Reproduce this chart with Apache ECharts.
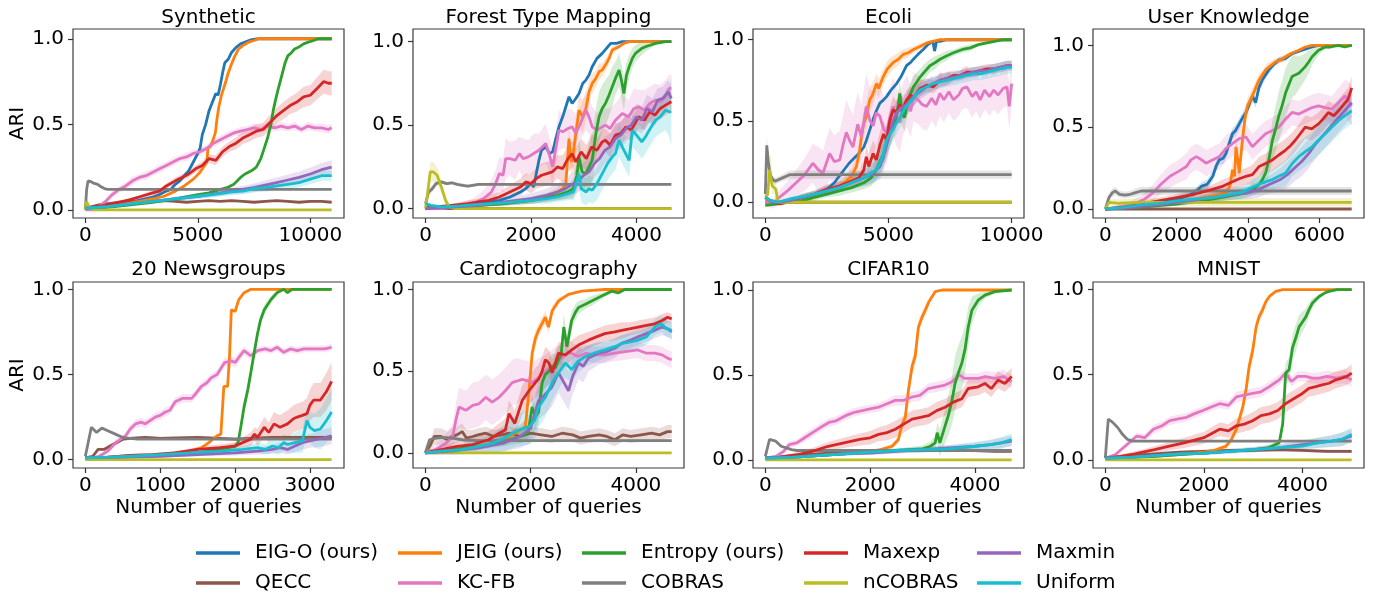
<!DOCTYPE html>
<html><head><meta charset="utf-8">
<script src="https://cdn.jsdelivr.net/npm/echarts@6/dist/echarts.min.js"></script>
<style>html,body{margin:0;padding:0;background:#fff}#c{width:1376px;height:593px}</style>
</head><body><div id="c"></div>
<script>
// ---------- labels ----------
const panelTitles = ['Synthetic','Forest Type Mapping','Ecoli','User Knowledge','20 Newsgroups','Cardiotocography','CIFAR10','MNIST'];
const seriesNames = ['EIG-O (ours)','QECC','JEIG (ours)','KC-FB','Entropy (ours)','COBRAS','Maxexp','nCOBRAS','Maxmin','Uniform'];
const yTicks = [0, 0.5, 1.0];
const xTicks = [[0,5000,10000],[0,2000,4000],[0,5000,10000],[0,2000,4000,6000],[0,1000,2000,3000],[0,2000,4000],[0,2000,4000],[0,2000,4000]];
const xRanges = [[-547,11497],[-237,4900],[-500,10500],[-345,7245],[-165,3455],[-234,4914],[-235,4935],[-250,5250]];
const yRanges = [[-0.047,1.057],[-0.056,1.076],[-0.097,1.066],[-0.055,1.10],[-0.049,1.043],[-0.093,1.046],[-0.048,1.047],[-0.048,1.045]];

// ---------- data: [queries, ARI, (band half-width)] ----------
// Synthetic
const syn_eig = [[0,0.01],[500,0.015],[1000,0.025],[1500,0.03],[2000,0.045],[2500,0.06],[3000,0.075],[3300,0.09],[3600,0.11],[3800,0.12],[4000,0.15],[4200,0.17],[4400,0.2],[4600,0.23],[4800,0.28],[5000,0.33],[5100,0.36],[5200,0.44],[5350,0.5],[5500,0.58],[5650,0.63],[5800,0.68],[5900,0.67],[6000,0.73],[6100,0.8],[6200,0.86],[6350,0.88],[6500,0.92],[6700,0.95],[6900,0.97],[7100,0.98],[7400,0.995],[7700,1.0],[8500,1.0],[9500,1.0],[10950,1.0]];
const syn_qecc = [[0,0.01],[300,0.02],[600,0.03],[900,0.035],[1200,0.04],[1500,0.045],[2000,0.05],[2500,0.045],[3000,0.05],[3500,0.055],[4000,0.05],[4500,0.045],[5000,0.05],[5500,0.055],[6000,0.05],[6500,0.055],[7000,0.05],[7500,0.045],[8000,0.05],[8500,0.055],[9000,0.05],[9500,0.045],[10000,0.05],[10500,0.05],[10950,0.045]];
const syn_jeig = [[0,0.01],[1000,0.02],[2000,0.04],[3000,0.065],[3500,0.08],[4000,0.11],[4400,0.14],[4800,0.18],[5100,0.22],[5300,0.26],[5400,0.28],[5450,0.36],[5550,0.37],[5650,0.4],[5780,0.45],[5850,0.53],[5930,0.6],[6050,0.67],[6220,0.74],[6350,0.8],[6520,0.86],[6650,0.9],[6810,0.94],[7000,0.96],[7260,0.98],[7500,0.99],[7700,1.0],[9000,1.0],[10950,1.0]];
const syn_kcfb = [[0,0.0,0.005],[300,0.0,0.005],[600,0.02,0.01],[900,0.05,0.015],[1200,0.09,0.02],[1500,0.12,0.02],[1800,0.14,0.02],[2100,0.17,0.025],[2400,0.19,0.02],[2700,0.2,0.025],[3000,0.22,0.02],[3300,0.24,0.025],[3600,0.26,0.02],[3900,0.28,0.025],[4200,0.3,0.02],[4500,0.31,0.025],[4800,0.33,0.02],[5100,0.34,0.025],[5400,0.36,0.02],[5700,0.39,0.025],[6000,0.41,0.02],[6300,0.43,0.025],[6600,0.45,0.02],[6900,0.46,0.025],[7200,0.47,0.02],[7500,0.48,0.025],[7800,0.47,0.02],[8100,0.49,0.025],[8400,0.48,0.02],[8700,0.49,0.025],[9000,0.48,0.02],[9300,0.49,0.025],[9600,0.47,0.02],[9900,0.49,0.025],[10200,0.48,0.02],[10500,0.48,0.025],[10800,0.47,0.025],[10950,0.48,0.025]];
const syn_ent = [[0,0.01],[1000,0.015],[2000,0.03],[3000,0.045],[4000,0.065],[5000,0.09],[5500,0.1],[6000,0.12],[6300,0.13],[6600,0.15],[6900,0.19],[7100,0.21],[7400,0.23],[7600,0.25],[7800,0.3],[7950,0.36],[8100,0.42],[8250,0.5],[8350,0.58],[8450,0.64],[8560,0.7],[8660,0.75],[8780,0.81],[8880,0.86],[9000,0.9],[9170,0.92],[9300,0.94],[9470,0.95],[9700,0.97],[9910,0.98],[10150,0.99],[10350,1.0],[10950,1.0]];
const syn_cobras = [[0,0.0],[60,0.12],[120,0.17],[250,0.165],[400,0.155],[550,0.15],[700,0.135],[850,0.125],[1000,0.12],[2000,0.12],[4000,0.12],[6000,0.12],[8000,0.12],[10950,0.12]];
const syn_maxexp = [[0,0.01,0.005],[500,0.02,0.005],[1000,0.03,0.01],[1500,0.045,0.01],[2000,0.06,0.01],[2500,0.08,0.01],[3000,0.1,0.015],[3300,0.11,0.015],[3600,0.14,0.015],[4000,0.17,0.02],[4300,0.19,0.02],[4600,0.21,0.02],[4900,0.24,0.02],[5200,0.26,0.025],[5500,0.3,0.025],[5800,0.29,0.03],[6100,0.34,0.03],[6400,0.37,0.03],[6700,0.39,0.035],[7000,0.42,0.035],[7300,0.44,0.04],[7600,0.46,0.04],[7900,0.47,0.04],[8200,0.51,0.045],[8500,0.55,0.045],[8800,0.58,0.05],[9100,0.61,0.05],[9400,0.63,0.055],[9700,0.66,0.06],[10000,0.67,0.06],[10300,0.71,0.065],[10600,0.75,0.07],[10800,0.74,0.07],[10950,0.74,0.07]];
const syn_ncobras = [[0,0.0],[50,0.05],[120,0.05],[200,0.01],[300,0.0],[10950,0.0]];
const syn_maxmin = [[0,0.01,0.003],[1000,0.02,0.005],[2000,0.035,0.008],[3000,0.05,0.01],[4000,0.065,0.012],[5000,0.08,0.015],[6000,0.1,0.018],[6500,0.11,0.02],[7000,0.12,0.022],[7500,0.13,0.025],[8000,0.145,0.028],[8500,0.16,0.03],[9000,0.175,0.032],[9500,0.19,0.035],[10000,0.21,0.038],[10500,0.235,0.04],[10950,0.25,0.04]];
const syn_unif = [[0,0.01,0.003],[1000,0.02,0.005],[2000,0.035,0.007],[3000,0.05,0.01],[4000,0.065,0.012],[5000,0.08,0.014],[6000,0.095,0.016],[6500,0.105,0.018],[7000,0.11,0.02],[7500,0.125,0.022],[8000,0.13,0.024],[8500,0.14,0.025],[9000,0.15,0.027],[9500,0.16,0.028],[10000,0.18,0.03],[10500,0.2,0.03],[10950,0.2,0.03]];
// Forest Type Mapping
const for_eig = [[0,0.02],[100,0.01],[300,0.01],[500,0.015],[800,0.02],[1000,0.03],[1200,0.04],[1400,0.05],[1600,0.07],[1800,0.1],[1900,0.12],[2000,0.15],[2050,0.13],[2150,0.29],[2200,0.35],[2280,0.37],[2350,0.33],[2410,0.34],[2470,0.42],[2530,0.49],[2600,0.55],[2650,0.6],[2720,0.67],[2780,0.63],[2850,0.66],[2910,0.69],[2980,0.75],[3040,0.77],[3100,0.8],[3160,0.85],[3250,0.9],[3350,0.93],[3430,0.96],[3510,0.99],[3620,0.99],[3730,1.0],[4000,1.0],[4660,1.0]];
const for_qecc = [[0,0.0],[4660,0.0]];
const for_jeig = [[0,0.0,0.01],[500,0.01,0.01],[1000,0.02,0.01],[1500,0.03,0.01],[2000,0.05,0.02],[2300,0.07,0.02],[2500,0.1,0.03],[2600,0.12,0.04],[2660,0.15,0.06],[2720,0.42,0.08],[2750,0.3,0.08],[2780,0.28,0.08],[2850,0.45,0.1],[2910,0.59,0.1],[2980,0.55,0.1],[3040,0.6,0.08],[3100,0.7,0.08],[3160,0.75,0.06],[3230,0.78,0.05],[3290,0.82,0.05],[3350,0.83,0.04],[3410,0.86,0.04],[3480,0.9,0.03],[3540,0.95,0.02],[3600,0.96,0.02],[3670,0.97,0.01],[3760,0.99,0.01],[3860,1.0,0.005],[4660,1.0,0.0]];
const for_kcfb = [[0,0.0,0.01],[300,0.0,0.01],[600,0.01,0.02],[900,0.03,0.03],[1100,0.06,0.05],[1250,0.1,0.07],[1330,0.15,0.08],[1400,0.21,0.1],[1470,0.2,0.1],[1520,0.3,0.12],[1600,0.3,0.1],[1700,0.29,0.12],[1780,0.33,0.1],[1850,0.3,0.12],[1950,0.31,0.1],[2050,0.33,0.12],[2150,0.35,0.1],[2280,0.39,0.12],[2350,0.32,0.1],[2410,0.25,0.12],[2470,0.36,0.1],[2530,0.47,0.12],[2600,0.46,0.1],[2700,0.48,0.12],[2780,0.49,0.1],[2850,0.45,0.12],[2950,0.52,0.1],[3040,0.59,0.12],[3100,0.55,0.1],[3160,0.49,0.12],[3250,0.47,0.1],[3350,0.49,0.12],[3410,0.5,0.1],[3500,0.48,0.12],[3600,0.53,0.1],[3730,0.57,0.12],[3850,0.55,0.1],[3950,0.6,0.12],[4040,0.61,0.1],[4150,0.59,0.12],[4250,0.63,0.1],[4360,0.65,0.1],[4450,0.64,0.1],[4550,0.67,0.1],[4620,0.72,0.08],[4660,0.72,0.08]];
const for_ent = [[0,0.01,0.01],[500,0.01,0.01],[1000,0.02,0.01],[1500,0.03,0.01],[2000,0.05,0.02],[2500,0.08,0.03],[2700,0.1,0.04],[2800,0.12,0.06],[2870,0.2,0.08],[2910,0.31,0.1],[2970,0.22,0.1],[3040,0.21,0.12],[3100,0.25,0.14],[3160,0.29,0.15],[3230,0.45,0.15],[3290,0.55,0.15],[3350,0.6,0.14],[3410,0.63,0.14],[3480,0.68,0.12],[3540,0.73,0.12],[3600,0.78,0.1],[3670,0.83,0.1],[3720,0.76,0.1],[3760,0.69,0.1],[3810,0.8,0.08],[3860,0.85,0.07],[3920,0.9,0.06],[3980,0.93,0.05],[4100,0.96,0.04],[4170,0.97,0.03],[4270,0.98,0.02],[4360,0.99,0.01],[4550,1.0,0.005],[4660,1.0,0.0]];
const for_cobras = [[0,0.03,0.01],[60,0.1,0.02],[130,0.12,0.02],[200,0.15,0.015],[300,0.16,0.01],[400,0.15,0.01],[500,0.155,0.01],[600,0.145,0.01],[700,0.14,0.01],[800,0.135,0.01],[900,0.14,0.01],[1000,0.145,0.008],[2000,0.145,0.008],[3000,0.145,0.008],[4660,0.145,0.008]];
const for_maxexp = [[0,0.0,0.01],[200,0.01,0.01],[500,0.02,0.01],[800,0.03,0.02],[1000,0.04,0.02],[1200,0.05,0.03],[1400,0.07,0.03],[1600,0.1,0.04],[1800,0.13,0.05],[1900,0.16,0.05],[2000,0.15,0.06],[2100,0.18,0.06],[2200,0.2,0.07],[2300,0.21,0.07],[2400,0.22,0.07],[2500,0.25,0.07],[2600,0.24,0.08],[2700,0.3,0.08],[2780,0.33,0.08],[2850,0.28,0.08],[2950,0.34,0.08],[3050,0.3,0.08],[3150,0.37,0.08],[3250,0.35,0.07],[3350,0.4,0.07],[3410,0.41,0.07],[3500,0.38,0.07],[3600,0.44,0.07],[3700,0.45,0.07],[3800,0.49,0.07],[3900,0.47,0.07],[4040,0.55,0.07],[4150,0.53,0.06],[4250,0.58,0.06],[4350,0.56,0.06],[4450,0.6,0.06],[4550,0.62,0.06],[4660,0.64,0.06]];
const for_ncobras = [[0,0.0,0.01],[50,0.12,0.04],[90,0.22,0.06],[150,0.22,0.06],[220,0.2,0.05],[300,0.13,0.04],[380,0.05,0.03],[450,0.01,0.01],[550,0.0,0.0],[4660,0.0,0.0]];
const for_maxmin = [[0,0.0,0.01],[500,0.01,0.01],[1000,0.02,0.01],[1500,0.04,0.02],[2000,0.06,0.03],[2300,0.08,0.04],[2500,0.1,0.05],[2650,0.12,0.06],[2800,0.15,0.07],[2900,0.17,0.07],[3000,0.2,0.08],[3100,0.22,0.08],[3200,0.27,0.08],[3300,0.3,0.08],[3400,0.35,0.08],[3500,0.37,0.08],[3600,0.42,0.08],[3700,0.44,0.08],[3800,0.48,0.08],[3900,0.5,0.08],[4000,0.55,0.08],[4100,0.53,0.08],[4200,0.6,0.08],[4300,0.58,0.08],[4400,0.65,0.07],[4500,0.66,0.07],[4600,0.7,0.07],[4660,0.66,0.07]];
const for_unif = [[0,0.03,0.01],[100,0.02,0.01],[300,0.01,0.01],[600,0.015,0.01],[1000,0.025,0.01],[1500,0.035,0.02],[2000,0.05,0.02],[2300,0.06,0.03],[2500,0.07,0.03],[2700,0.09,0.04],[2800,0.1,0.05],[2850,0.14,0.06],[2910,0.21,0.08],[2950,0.12,0.08],[3040,0.1,0.08],[3100,0.12,0.08],[3160,0.11,0.08],[3250,0.15,0.1],[3350,0.21,0.1],[3450,0.27,0.1],[3540,0.31,0.1],[3600,0.33,0.1],[3670,0.41,0.1],[3760,0.35,0.1],[3860,0.29,0.1],[3920,0.47,0.1],[4000,0.44,0.1],[4100,0.4,0.1],[4170,0.43,0.1],[4260,0.48,0.1],[4360,0.53,0.1],[4450,0.55,0.1],[4550,0.59,0.12],[4620,0.58,0.15],[4660,0.58,0.2]];
// Ecoli
const eco_eig = [[0,0.03],[200,0.01],[500,0.0],[1000,0.01],[1500,0.03],[2000,0.05],[2500,0.08],[2800,0.12],[3000,0.16],[3200,0.2],[3400,0.24],[3600,0.27],[3800,0.3],[4000,0.34],[4100,0.38],[4250,0.45],[4375,0.51],[4500,0.56],[4650,0.61],[4800,0.63],[4920,0.65],[5100,0.69],[5330,0.73],[5500,0.77],[5730,0.84],[5900,0.86],[6010,0.88],[6200,0.91],[6410,0.94],[6600,0.97],[6800,0.99],[6870,0.93],[6950,0.99],[7100,0.99],[7360,1.0],[8000,1.0],[10000,1.0]];
const eco_qecc = [[0,0.0],[10000,0.0]];
const eco_jeig = [[0,0.01,0.01],[500,0.0,0.01],[1000,0.01,0.01],[1500,0.03,0.02],[2000,0.05,0.02],[2500,0.07,0.03],[3000,0.1,0.03],[3300,0.13,0.04],[3500,0.16,0.05],[3700,0.22,0.06],[3830,0.32,0.08],[3900,0.4,0.08],[3970,0.47,0.08],[4100,0.53,0.08],[4240,0.63,0.08],[4350,0.66,0.07],[4510,0.73,0.06],[4600,0.7,0.06],[4780,0.77,0.05],[4950,0.82,0.05],[5190,0.86,0.04],[5400,0.88,0.04],[5600,0.91,0.03],[5800,0.92,0.03],[6010,0.94,0.02],[6300,0.96,0.02],[6550,0.98,0.01],[6800,0.99,0.01],[7090,1.0,0.0],[10000,1.0,0.0]];
const eco_kcfb = [[0,0.0,0.02],[300,-0.01,0.03],[570,0.03,0.04],[900,0.07,0.06],[1250,0.12,0.08],[1600,0.17,0.1],[1930,0.24,0.12],[2150,0.2,0.14],[2340,0.18,0.14],[2610,0.3,0.16],[2800,0.25,0.16],[3020,0.26,0.18],[3150,0.35,0.18],[3290,0.43,0.2],[3420,0.38,0.2],[3560,0.34,0.2],[3750,0.48,0.2],[3900,0.4,0.2],[4100,0.59,0.2],[4250,0.5,0.2],[4375,0.47,0.2],[4500,0.55,0.2],[4650,0.53,0.2],[4800,0.45,0.2],[4920,0.43,0.2],[5050,0.52,0.18],[5190,0.59,0.18],[5330,0.52,0.18],[5460,0.49,0.18],[5600,0.58,0.16],[5750,0.62,0.16],[5900,0.56,0.16],[6010,0.65,0.15],[6200,0.63,0.15],[6380,0.6,0.15],[6550,0.59,0.15],[6750,0.64,0.14],[6920,0.6,0.14],[7090,0.67,0.14],[7250,0.63,0.14],[7450,0.68,0.13],[7640,0.63,0.13],[7850,0.66,0.13],[8000,0.7,0.13],[8180,0.71,0.13],[8400,0.65,0.13],[8550,0.68,0.12],[8720,0.63,0.12],[8900,0.69,0.12],[9100,0.65,0.12],[9270,0.69,0.12],[9450,0.66,0.12],[9650,0.7,0.12],[9810,0.71,0.12],[9900,0.59,0.15],[10000,0.73,0.12]];
const eco_ent = [[0,-0.02,0.01],[500,-0.01,0.01],[1000,0.0,0.01],[1500,0.01,0.01],[2000,0.03,0.02],[2500,0.05,0.02],[3000,0.07,0.03],[3500,0.09,0.03],[4000,0.12,0.04],[4300,0.15,0.05],[4500,0.2,0.06],[4650,0.25,0.07],[4800,0.3,0.08],[4920,0.36,0.08],[5050,0.42,0.08],[5190,0.47,0.08],[5300,0.52,0.08],[5400,0.6,0.08],[5460,0.67,0.08],[5550,0.55,0.08],[5650,0.52,0.08],[5730,0.58,0.07],[5850,0.65,0.07],[6010,0.71,0.06],[6150,0.74,0.06],[6280,0.77,0.05],[6450,0.8,0.05],[6680,0.84,0.04],[6900,0.86,0.04],[7090,0.88,0.03],[7350,0.9,0.03],[7640,0.92,0.02],[8000,0.94,0.02],[8320,0.95,0.02],[8650,0.97,0.01],[8990,0.98,0.01],[9300,0.99,0.01],[9670,1.0,0.0],[10000,1.0,0.0]];
const eco_cobras = [[0,0.05,0.02],[60,0.35,0.06],[120,0.25,0.05],[200,0.17,0.03],[300,0.14,0.02],[400,0.13,0.02],[550,0.14,0.02],[700,0.15,0.02],[850,0.16,0.025],[1000,0.17,0.025],[2000,0.17,0.025],[5000,0.17,0.025],[10000,0.17,0.025]];
const eco_maxexp = [[0,0.03,0.01],[300,0.0,0.01],[600,-0.01,0.01],[1000,0.01,0.01],[1500,0.03,0.02],[2000,0.05,0.02],[2500,0.08,0.03],[3000,0.1,0.03],[3500,0.13,0.04],[3800,0.15,0.05],[4000,0.2,0.06],[4100,0.28,0.07],[4200,0.22,0.08],[4375,0.3,0.08],[4500,0.26,0.08],[4650,0.35,0.08],[4800,0.42,0.08],[4920,0.38,0.08],[5050,0.5,0.08],[5190,0.57,0.08],[5330,0.55,0.07],[5460,0.6,0.07],[5600,0.58,0.06],[5730,0.63,0.06],[5900,0.66,0.05],[6010,0.64,0.05],[6280,0.7,0.05],[6550,0.72,0.04],[6820,0.71,0.04],[7090,0.75,0.04],[7360,0.76,0.04],[7640,0.78,0.03],[7900,0.78,0.03],[8180,0.8,0.03],[8450,0.8,0.03],[8720,0.81,0.03],[9000,0.82,0.03],[9270,0.82,0.03],[9540,0.83,0.03],[9810,0.84,0.03],[10000,0.84,0.03]];
const eco_ncobras = [[0,0.03,0.02],[100,0.05,0.04],[170,0.2,0.08],[230,0.21,0.08],[280,0.1,0.05],[350,0.09,0.04],[430,0.08,0.03],[500,0.01,0.01],[600,0.0,0.0],[10000,0.0,0.0]];
const eco_maxmin = [[0,0.03,0.01],[300,0.0,0.01],[600,0.0,0.01],[1000,0.01,0.01],[1500,0.03,0.02],[2000,0.05,0.02],[2500,0.07,0.03],[3000,0.09,0.03],[3500,0.12,0.04],[4000,0.15,0.05],[4300,0.17,0.06],[4650,0.22,0.08],[4800,0.28,0.09],[4920,0.35,0.09],[5050,0.42,0.09],[5190,0.5,0.08],[5330,0.55,0.08],[5500,0.58,0.07],[5730,0.6,0.07],[6010,0.65,0.06],[6280,0.68,0.05],[6550,0.71,0.05],[6820,0.73,0.04],[7090,0.75,0.04],[7360,0.76,0.04],[7640,0.77,0.03],[7900,0.78,0.03],[8180,0.79,0.03],[8450,0.8,0.03],[8720,0.81,0.03],[9000,0.81,0.03],[9270,0.82,0.03],[9540,0.83,0.03],[9810,0.84,0.03],[10000,0.84,0.03]];
const eco_unif = [[0,0.03,0.01],[200,0.01,0.01],[500,0.0,0.01],[1000,0.02,0.01],[1500,0.035,0.02],[2000,0.05,0.02],[2500,0.07,0.03],[3000,0.09,0.03],[3500,0.12,0.04],[4000,0.15,0.05],[4300,0.18,0.06],[4500,0.2,0.07],[4650,0.24,0.08],[4800,0.3,0.08],[4920,0.38,0.08],[5050,0.42,0.08],[5190,0.45,0.07],[5330,0.49,0.07],[5460,0.52,0.06],[5600,0.56,0.06],[5730,0.59,0.05],[5900,0.62,0.05],[6010,0.64,0.05],[6280,0.69,0.04],[6550,0.71,0.04],[6820,0.73,0.04],[7090,0.74,0.04],[7360,0.75,0.04],[7640,0.76,0.04],[7900,0.77,0.04],[8180,0.78,0.04],[8450,0.79,0.04],[8720,0.79,0.04],[9000,0.8,0.04],[9270,0.81,0.04],[9540,0.82,0.04],[9810,0.83,0.04],[10000,0.83,0.04]];
// User Knowledge
const uk_eig = [[0,0.0,0.005],[300,0.005,0.005],[600,0.01,0.01],[1000,0.02,0.01],[1500,0.04,0.015],[2000,0.06,0.02],[2300,0.08,0.02],[2500,0.1,0.02],[2700,0.14,0.025],[2850,0.15,0.03],[3010,0.2,0.03],[3100,0.26,0.03],[3190,0.3,0.03],[3300,0.31,0.035],[3380,0.34,0.035],[3470,0.4,0.035],[3560,0.46,0.035],[3650,0.48,0.035],[3750,0.52,0.035],[3850,0.56,0.035],[3940,0.59,0.035],[4030,0.64,0.035],[4120,0.69,0.03],[4210,0.65,0.03],[4300,0.74,0.03],[4400,0.79,0.03],[4490,0.82,0.025],[4580,0.85,0.025],[4700,0.88,0.02],[4860,0.91,0.02],[5050,0.92,0.015],[5230,0.95,0.01],[5510,0.97,0.01],[5790,0.99,0.005],[5970,1.0,0.0],[6900,1.0,0.0]];
const uk_qecc = [[0,0.0],[6900,0.0]];
const uk_jeig = [[0,0.0,0.005],[500,0.005,0.005],[1000,0.02,0.01],[1500,0.03,0.01],[2000,0.045,0.015],[2500,0.06,0.02],[3000,0.08,0.02],[3200,0.09,0.03],[3400,0.1,0.03],[3500,0.15,0.04],[3560,0.24,0.05],[3620,0.2,0.05],[3660,0.38,0.06],[3710,0.3,0.06],[3750,0.22,0.06],[3840,0.42,0.06],[3910,0.55,0.06],[3980,0.63,0.05],[4050,0.66,0.05],[4120,0.69,0.05],[4210,0.74,0.04],[4310,0.79,0.04],[4400,0.82,0.03],[4490,0.85,0.03],[4600,0.87,0.03],[4770,0.9,0.02],[4900,0.91,0.02],[5050,0.93,0.02],[5200,0.95,0.01],[5420,0.97,0.01],[5600,0.99,0.005],[5790,1.0,0.0],[6900,1.0,0.0]];
const uk_kcfb = [[0,0.0,0.005],[300,0.01,0.01],[600,0.02,0.02],[900,0.04,0.03],[1100,0.06,0.04],[1340,0.1,0.05],[1550,0.15,0.06],[1810,0.2,0.07],[2050,0.23,0.07],[2270,0.26,0.08],[2400,0.3,0.08],[2550,0.32,0.08],[2700,0.3,0.08],[2820,0.28,0.08],[3000,0.3,0.08],[3190,0.32,0.08],[3380,0.37,0.08],[3560,0.4,0.08],[3750,0.43,0.08],[3940,0.44,0.08],[4030,0.41,0.08],[4120,0.38,0.08],[4300,0.42,0.08],[4490,0.46,0.08],[4680,0.48,0.08],[4860,0.5,0.08],[5050,0.55,0.08],[5230,0.59,0.08],[5420,0.58,0.08],[5600,0.6,0.08],[5790,0.62,0.08],[5970,0.63,0.08],[6160,0.62,0.08],[6340,0.61,0.08],[6530,0.65,0.09],[6710,0.69,0.1],[6800,0.66,0.12],[6900,0.63,0.12]];
const uk_ent = [[0,0.0,0.005],[500,0.005,0.005],[1000,0.01,0.005],[1500,0.02,0.01],[2000,0.03,0.01],[2500,0.045,0.015],[3000,0.06,0.02],[3500,0.08,0.025],[4000,0.1,0.03],[4200,0.13,0.04],[4310,0.15,0.05],[4400,0.18,0.06],[4490,0.22,0.08],[4580,0.3,0.1],[4680,0.42,0.12],[4770,0.49,0.14],[4860,0.57,0.15],[4950,0.63,0.15],[5050,0.71,0.15],[5140,0.76,0.14],[5230,0.81,0.13],[5330,0.82,0.12],[5420,0.83,0.1],[5510,0.85,0.09],[5600,0.87,0.08],[5700,0.9,0.07],[5790,0.93,0.05],[5880,0.95,0.04],[5970,0.97,0.03],[6060,0.98,0.02],[6160,0.99,0.01],[6300,0.99,0.01],[6530,1.0,0.005],[6700,0.99,0.005],[6900,1.0,0.0]];
const uk_cobras = [[0,0.0,0.005],[100,0.07,0.02],[200,0.1,0.025],[280,0.11,0.025],[400,0.09,0.02],[550,0.085,0.02],[700,0.09,0.02],[850,0.1,0.025],[1000,0.11,0.025],[2000,0.11,0.025],[6900,0.11,0.025]];
const uk_maxexp = [[0,0.0,0.005],[500,0.01,0.01],[1000,0.03,0.015],[1500,0.05,0.02],[2000,0.07,0.02],[2500,0.09,0.03],[3000,0.12,0.03],[3300,0.14,0.04],[3500,0.16,0.04],[3700,0.18,0.05],[3940,0.2,0.05],[4120,0.21,0.06],[4310,0.26,0.06],[4500,0.28,0.06],[4680,0.3,0.07],[4860,0.33,0.07],[5050,0.36,0.07],[5200,0.39,0.07],[5320,0.42,0.07],[5460,0.46,0.07],[5600,0.5,0.07],[5780,0.49,0.07],[5970,0.52,0.07],[6100,0.55,0.07],[6250,0.59,0.07],[6400,0.57,0.07],[6530,0.6,0.07],[6680,0.64,0.07],[6800,0.67,0.07],[6900,0.74,0.07]];
const uk_ncobras = [[0,0.0,0.005],[100,0.04,0.02],[400,0.035,0.025],[1000,0.04,0.025],[6900,0.04,0.025]];
const uk_maxmin = [[0,0.0,0.005],[500,0.005,0.005],[1000,0.015,0.01],[1500,0.025,0.01],[2000,0.04,0.015],[2500,0.055,0.02],[3000,0.07,0.025],[3500,0.085,0.03],[4000,0.1,0.04],[4300,0.12,0.05],[4500,0.14,0.05],[4700,0.16,0.06],[4900,0.18,0.07],[5100,0.21,0.08],[5300,0.25,0.08],[5500,0.29,0.09],[5700,0.34,0.09],[5900,0.4,0.09],[6100,0.45,0.09],[6300,0.5,0.09],[6500,0.55,0.09],[6700,0.6,0.09],[6900,0.65,0.09]];
const uk_unif = [[0,0.0,0.005],[500,0.01,0.005],[1000,0.025,0.01],[1500,0.035,0.01],[2000,0.05,0.015],[2500,0.06,0.02],[3000,0.07,0.025],[3500,0.09,0.03],[3800,0.1,0.04],[4000,0.12,0.04],[4200,0.14,0.05],[4400,0.16,0.05],[4680,0.18,0.06],[4860,0.2,0.07],[5050,0.22,0.08],[5240,0.28,0.08],[5420,0.32,0.09],[5600,0.35,0.09],[5790,0.38,0.09],[5970,0.42,0.09],[6160,0.46,0.09],[6340,0.5,0.09],[6530,0.54,0.09],[6710,0.57,0.08],[6900,0.6,0.08]];
// 20 Newsgroups
const ng_qecc = [[0,0.01,0.005],[100,0.02,0.01],[170,0.06,0.01],[250,0.06,0.01],[330,0.08,0.01],[420,0.1,0.01],[500,0.12,0.01],[600,0.125,0.01],[800,0.13,0.01],[1000,0.125,0.01],[1500,0.13,0.01],[2000,0.12,0.01],[2500,0.13,0.01],[3000,0.13,0.01],[3290,0.13,0.01]];
const ng_jeig = [[0,0.01],[200,0.01],[500,0.02],[800,0.025],[1000,0.03],[1200,0.04],[1400,0.05],[1550,0.07],[1650,0.1],[1700,0.12],[1760,0.14],[1810,0.15],[1850,0.43],[1900,0.43],[1925,0.6],[1950,0.88],[2000,0.87],[2050,0.94],[2120,0.98],[2210,1.0],[3290,1.0]];
const ng_kcfb = [[0,0.01,0.005],[100,0.01,0.005],[185,0.02,0.01],[300,0.05,0.015],[405,0.1,0.02],[537,0.14,0.02],[600,0.18,0.025],[670,0.21,0.025],[750,0.22,0.025],[800,0.21,0.025],[934,0.25,0.025],[1000,0.26,0.025],[1070,0.28,0.025],[1130,0.29,0.025],[1200,0.34,0.025],[1300,0.36,0.025],[1420,0.36,0.025],[1480,0.39,0.025],[1550,0.43,0.025],[1620,0.45,0.025],[1680,0.48,0.025],[1760,0.5,0.025],[1860,0.57,0.025],[1950,0.58,0.025],[2000,0.57,0.03],[2050,0.6,0.03],[2120,0.64,0.025],[2210,0.61,0.025],[2300,0.64,0.02],[2400,0.65,0.02],[2480,0.64,0.02],[2560,0.66,0.02],[2650,0.63,0.02],[2740,0.65,0.02],[2830,0.64,0.02],[2920,0.65,0.02],[3000,0.65,0.02],[3100,0.65,0.02],[3200,0.65,0.02],[3290,0.66,0.02]];
const ng_ent = [[0,0.01,0.005],[500,0.015,0.005],[1000,0.025,0.005],[1500,0.04,0.01],[1800,0.06,0.01],[2000,0.08,0.02],[2040,0.1,0.02],[2080,0.2,0.03],[2120,0.31,0.04],[2170,0.41,0.04],[2210,0.51,0.04],[2260,0.64,0.04],[2300,0.74,0.04],[2340,0.82,0.03],[2390,0.88,0.03],[2480,0.94,0.02],[2560,0.98,0.01],[2650,1.0,0.005],[2700,0.98,0.005],[2760,1.0,0.0],[3290,1.0,0.0]];
const ng_cobras = [[0,0.02],[80,0.19],[150,0.16],[220,0.185],[300,0.17],[400,0.15],[500,0.13],[600,0.125],[700,0.12],[1000,0.12],[3290,0.12]];
const ng_maxexp = [[0,0.01,0.005],[300,0.015,0.005],[600,0.025,0.01],[900,0.03,0.01],[1200,0.04,0.01],[1500,0.06,0.015],[1800,0.07,0.02],[2000,0.08,0.02],[2100,0.1,0.03],[2210,0.12,0.04],[2260,0.15,0.04],[2300,0.13,0.05],[2390,0.19,0.06],[2450,0.16,0.06],[2520,0.21,0.07],[2600,0.19,0.07],[2700,0.21,0.08],[2780,0.24,0.08],[2830,0.25,0.08],[2900,0.26,0.08],[2960,0.27,0.09],[3000,0.32,0.09],[3050,0.35,0.1],[3140,0.35,0.1],[3220,0.4,0.11],[3290,0.46,0.11]];
const ng_ncobras = [[0,0.0],[3290,0.0]];
const ng_maxmin = [[0,0.01,0.003],[500,0.015,0.005],[1000,0.02,0.008],[1500,0.03,0.01],[2000,0.04,0.015],[2300,0.05,0.02],[2500,0.06,0.025],[2600,0.07,0.03],[2700,0.06,0.03],[2800,0.08,0.035],[2900,0.1,0.04],[3000,0.11,0.04],[3100,0.12,0.045],[3200,0.13,0.05],[3290,0.14,0.05]];
const ng_unif = [[0,0.01,0.003],[300,0.015,0.005],[600,0.02,0.005],[1000,0.03,0.01],[1400,0.04,0.01],[1800,0.05,0.015],[2100,0.06,0.02],[2300,0.07,0.03],[2400,0.06,0.03],[2500,0.08,0.04],[2580,0.07,0.04],[2650,0.1,0.05],[2700,0.09,0.05],[2800,0.1,0.06],[2900,0.11,0.07],[2960,0.23,0.08],[3000,0.19,0.09],[3060,0.17,0.1],[3140,0.18,0.12],[3220,0.23,0.13],[3290,0.28,0.14]];
// Cardiotocography
const ca_qecc = [[0,0.0,0.01],[100,0.05,0.03],[170,0.1,0.05],[300,0.1,0.05],[420,0.08,0.05],[500,0.1,0.05],[600,0.11,0.05],[700,0.13,0.05],[780,0.09,0.05],[900,0.1,0.04],[1000,0.11,0.04],[1150,0.12,0.04],[1300,0.1,0.04],[1450,0.11,0.04],[1600,0.12,0.04],[1800,0.1,0.04],[2000,0.12,0.04],[2200,0.11,0.04],[2400,0.1,0.04],[2600,0.12,0.04],[2800,0.11,0.04],[2950,0.09,0.04],[3100,0.1,0.04],[3300,0.11,0.04],[3450,0.1,0.04],[3600,0.08,0.04],[3750,0.11,0.04],[3900,0.1,0.04],[4100,0.11,0.04],[4300,0.12,0.04],[4450,0.11,0.04],[4600,0.13,0.04],[4680,0.13,0.04]];
const ca_jeig = [[0,0.01,0.005],[300,0.015,0.005],[600,0.02,0.01],[1000,0.04,0.01],[1300,0.06,0.02],[1500,0.08,0.02],[1700,0.12,0.03],[1800,0.14,0.03],[1900,0.16,0.04],[1970,0.38,0.05],[2030,0.61,0.05],[2090,0.7,0.05],[2150,0.75,0.04],[2280,0.83,0.04],[2340,0.77,0.04],[2410,0.87,0.03],[2530,0.93,0.02],[2720,0.97,0.01],[2970,0.99,0.005],[3410,1.0,0.0],[4680,1.0,0.0]];
const ca_kcfb = [[0,0.0,0.01],[200,0.02,0.03],[400,0.06,0.06],[520,0.1,0.08],[580,0.2,0.1],[640,0.28,0.12],[770,0.26,0.12],[900,0.29,0.14],[1020,0.3,0.14],[1150,0.34,0.14],[1270,0.31,0.14],[1400,0.34,0.14],[1520,0.38,0.14],[1650,0.43,0.14],[1750,0.44,0.14],[1840,0.45,0.12],[1950,0.44,0.12],[2030,0.43,0.12],[2150,0.46,0.12],[2280,0.5,0.1],[2400,0.53,0.1],[2470,0.55,0.1],[2600,0.58,0.08],[2700,0.61,0.08],[2780,0.61,0.07],[2900,0.59,0.06],[3050,0.61,0.05],[3200,0.6,0.05],[3410,0.6,0.05],[3600,0.61,0.05],[3800,0.62,0.05],[4040,0.63,0.05],[4200,0.61,0.05],[4360,0.61,0.05],[4500,0.6,0.05],[4600,0.58,0.05],[4680,0.57,0.05]];
const ca_ent = [[0,0.0,0.005],[500,0.02,0.01],[1000,0.04,0.02],[1500,0.07,0.03],[1800,0.1,0.04],[1950,0.12,0.05],[2030,0.28,0.07],[2090,0.22,0.08],[2150,0.25,0.08],[2220,0.43,0.08],[2280,0.48,0.08],[2350,0.5,0.08],[2410,0.53,0.08],[2470,0.52,0.08],[2530,0.57,0.08],[2580,0.6,0.08],[2630,0.77,0.08],[2690,0.65,0.07],[2780,0.81,0.06],[2850,0.86,0.05],[2910,0.89,0.04],[3040,0.91,0.03],[3160,0.93,0.03],[3350,0.96,0.02],[3540,0.99,0.01],[3670,0.98,0.01],[3790,1.0,0.0],[4680,1.0,0.0]];
const ca_cobras = [[0,0.0,0.005],[80,0.08,0.01],[200,0.09,0.01],[350,0.095,0.01],[500,0.09,0.01],[700,0.08,0.01],[1000,0.075,0.01],[4680,0.075,0.01]];
const ca_maxexp = [[0,0.0,0.01],[300,0.02,0.02],[600,0.04,0.03],[900,0.05,0.04],[1200,0.08,0.05],[1400,0.12,0.06],[1520,0.14,0.07],[1590,0.24,0.08],[1700,0.18,0.08],[1840,0.32,0.09],[1970,0.38,0.09],[2090,0.43,0.09],[2150,0.45,0.09],[2220,0.5,0.09],[2280,0.57,0.08],[2350,0.55,0.08],[2410,0.49,0.08],[2530,0.61,0.07],[2660,0.6,0.07],[2780,0.63,0.06],[2910,0.66,0.06],[3100,0.69,0.05],[3250,0.71,0.05],[3410,0.73,0.05],[3600,0.74,0.05],[3730,0.75,0.05],[3900,0.76,0.04],[4040,0.77,0.04],[4200,0.78,0.04],[4360,0.79,0.04],[4500,0.81,0.04],[4600,0.83,0.03],[4680,0.82,0.03]];
const ca_ncobras = [[0,0.0],[4680,0.0]];
const ca_maxmin = [[0,0.0,0.01],[500,0.01,0.02],[1000,0.03,0.03],[1500,0.06,0.05],[1800,0.1,0.07],[2000,0.15,0.09],[2150,0.32,0.11],[2250,0.35,0.12],[2400,0.4,0.12],[2530,0.49,0.12],[2600,0.45,0.12],[2720,0.38,0.12],[2800,0.47,0.11],[2910,0.55,0.1],[3000,0.53,0.1],[3100,0.58,0.08],[3290,0.61,0.07],[3450,0.62,0.06],[3600,0.64,0.06],[3730,0.67,0.05],[3900,0.69,0.05],[4040,0.71,0.05],[4200,0.73,0.05],[4360,0.75,0.05],[4500,0.77,0.05],[4600,0.76,0.05],[4680,0.74,0.05]];
const ca_unif = [[0,0.0,0.01],[300,0.01,0.02],[700,0.02,0.03],[1000,0.04,0.04],[1300,0.06,0.06],[1500,0.09,0.08],[1650,0.12,0.09],[1780,0.14,0.1],[1970,0.16,0.11],[2080,0.2,0.12],[2150,0.28,0.12],[2280,0.34,0.12],[2410,0.43,0.11],[2530,0.49,0.1],[2660,0.55,0.09],[2780,0.51,0.08],[2900,0.56,0.07],[3040,0.59,0.06],[3200,0.61,0.06],[3410,0.63,0.05],[3600,0.65,0.05],[3730,0.67,0.05],[3900,0.68,0.05],[4040,0.69,0.05],[4200,0.71,0.05],[4360,0.77,0.05],[4480,0.79,0.05],[4580,0.76,0.05],[4680,0.75,0.05]];
// CIFAR10
const ci_qecc = [[0,0.01,0.003],[500,0.025,0.005],[1000,0.035,0.007],[1500,0.045,0.008],[2000,0.05,0.01],[2500,0.055,0.01],[3000,0.055,0.01],[3500,0.06,0.01],[4000,0.055,0.01],[4400,0.05,0.01],[4700,0.05,0.01]];
const ci_jeig = [[0,0.01,0.003],[500,0.015,0.003],[1000,0.025,0.005],[1500,0.035,0.005],[2000,0.05,0.01],[2200,0.06,0.01],[2420,0.08,0.015],[2540,0.12,0.02],[2600,0.2,0.03],[2670,0.25,0.04],[2730,0.41,0.05],[2800,0.55,0.05],[2860,0.61,0.05],[2920,0.78,0.04],[2990,0.84,0.03],[3050,0.88,0.03],[3120,0.93,0.02],[3180,0.96,0.01],[3240,0.99,0.005],[3370,1.0,0.0],[4700,1.0,0.0]];
const ci_kcfb = [[0,0.01,0.005],[200,0.02,0.01],[350,0.05,0.015],[455,0.09,0.02],[600,0.1,0.02],[750,0.13,0.025],[900,0.16,0.025],[1050,0.19,0.025],[1215,0.22,0.025],[1350,0.23,0.025],[1530,0.26,0.025],[1700,0.28,0.025],[1850,0.29,0.025],[2000,0.3,0.025],[2160,0.31,0.025],[2320,0.33,0.025],[2480,0.35,0.03],[2640,0.35,0.03],[2800,0.37,0.03],[2950,0.38,0.03],[3110,0.42,0.03],[3270,0.43,0.03],[3430,0.44,0.03],[3560,0.46,0.03],[3700,0.5,0.03],[3800,0.48,0.03],[3900,0.48,0.03],[4060,0.48,0.03],[4200,0.49,0.035],[4380,0.48,0.035],[4550,0.49,0.04],[4700,0.46,0.04]];
const ci_ent = [[0,0.01,0.003],[500,0.015,0.003],[1000,0.025,0.005],[1500,0.035,0.005],[2000,0.045,0.01],[2500,0.055,0.01],[3000,0.065,0.02],[3150,0.08,0.03],[3240,0.1,0.04],[3280,0.16,0.06],[3330,0.1,0.08],[3430,0.2,0.1],[3500,0.27,0.12],[3560,0.35,0.14],[3620,0.45,0.16],[3680,0.51,0.16],[3750,0.57,0.16],[3810,0.65,0.14],[3870,0.78,0.12],[3940,0.88,0.08],[4000,0.91,0.06],[4060,0.94,0.04],[4190,0.97,0.02],[4380,0.99,0.01],[4700,1.0,0.0]];
const ci_cobras = [[0,0.02],[80,0.12],[200,0.11],[300,0.08],[400,0.07],[500,0.06],[600,0.055],[4700,0.055]];
const ci_maxexp = [[0,0.01,0.005],[300,0.015,0.01],[600,0.03,0.015],[900,0.05,0.02],[1200,0.08,0.025],[1500,0.1,0.03],[1800,0.12,0.035],[2000,0.13,0.04],[2160,0.15,0.04],[2320,0.16,0.045],[2480,0.18,0.05],[2640,0.21,0.05],[2800,0.24,0.05],[2960,0.25,0.05],[3110,0.26,0.05],[3270,0.29,0.05],[3430,0.31,0.05],[3590,0.34,0.05],[3750,0.36,0.05],[3870,0.42,0.05],[4060,0.43,0.05],[4190,0.45,0.05],[4310,0.42,0.05],[4440,0.47,0.05],[4570,0.45,0.05],[4700,0.49,0.05]];
const ci_ncobras = [[0,0.0],[4700,0.0]];
const ci_maxmin = [[0,0.01,0.003],[500,0.015,0.005],[1000,0.025,0.007],[1500,0.035,0.01],[2000,0.04,0.012],[2500,0.05,0.014],[3000,0.06,0.016],[3500,0.07,0.018],[4000,0.08,0.02],[4300,0.09,0.025],[4500,0.1,0.03],[4700,0.11,0.03]];
const ci_unif = [[0,0.01,0.003],[500,0.015,0.005],[1000,0.025,0.007],[1500,0.035,0.01],[2000,0.045,0.012],[2500,0.055,0.014],[3000,0.06,0.016],[3500,0.065,0.02],[4000,0.08,0.025],[4300,0.09,0.03],[4500,0.1,0.035],[4700,0.12,0.035]];
// MNIST
const mn_qecc = [[0,0.01,0.003],[500,0.025,0.005],[1000,0.035,0.007],[1500,0.045,0.008],[2000,0.05,0.01],[2500,0.055,0.01],[3000,0.055,0.01],[3500,0.06,0.01],[4000,0.055,0.01],[4500,0.05,0.01],[5000,0.05,0.01]];
const mn_jeig = [[0,0.01,0.003],[500,0.015,0.003],[1000,0.02,0.005],[1500,0.03,0.005],[2000,0.045,0.01],[2200,0.055,0.01],[2450,0.08,0.015],[2560,0.12,0.02],[2660,0.18,0.03],[2790,0.31,0.04],[2860,0.42,0.05],[2920,0.55,0.05],[2990,0.64,0.05],[3060,0.78,0.04],[3120,0.84,0.03],[3190,0.88,0.03],[3260,0.93,0.02],[3330,0.96,0.01],[3460,0.99,0.005],[3600,1.0,0.0],[5000,1.0,0.0]];
const mn_kcfb = [[0,0.01,0.005],[200,0.03,0.01],[400,0.08,0.015],[640,0.14,0.02],[800,0.13,0.02],[975,0.18,0.025],[1150,0.2,0.025],[1310,0.23,0.025],[1480,0.24,0.025],[1650,0.25,0.025],[1800,0.27,0.025],[1980,0.29,0.025],[2150,0.31,0.025],[2320,0.33,0.025],[2500,0.32,0.025],[2660,0.37,0.03],[2820,0.38,0.03],[2990,0.39,0.03],[3160,0.4,0.03],[3330,0.43,0.03],[3430,0.45,0.03],[3530,0.47,0.03],[3660,0.51,0.03],[3780,0.46,0.03],[3900,0.49,0.03],[4070,0.49,0.03],[4200,0.48,0.03],[4340,0.48,0.035],[4500,0.49,0.035],[4700,0.48,0.035],[4850,0.49,0.04],[5000,0.47,0.04]];
const mn_ent = [[0,0.01,0.003],[500,0.015,0.003],[1000,0.02,0.005],[1500,0.03,0.005],[2000,0.04,0.01],[2500,0.05,0.01],[3000,0.06,0.01],[3300,0.07,0.015],[3530,0.1,0.02],[3600,0.21,0.04],[3660,0.51,0.06],[3730,0.53,0.07],[3800,0.66,0.08],[3870,0.72,0.08],[3930,0.78,0.07],[4000,0.81,0.06],[4070,0.84,0.05],[4130,0.88,0.04],[4200,0.92,0.03],[4270,0.94,0.02],[4340,0.96,0.015],[4450,0.98,0.01],[4540,0.99,0.005],[4700,1.0,0.0],[5000,1.0,0.0]];
const mn_cobras = [[0,0.01],[60,0.24],[150,0.22],[250,0.19],[350,0.15],[450,0.12],[550,0.11],[5000,0.11]];
const mn_maxexp = [[0,0.01,0.005],[300,0.02,0.01],[600,0.035,0.015],[1000,0.06,0.02],[1300,0.08,0.025],[1600,0.1,0.03],[2000,0.13,0.035],[2320,0.18,0.04],[2500,0.17,0.04],[2660,0.2,0.045],[2820,0.21,0.045],[2990,0.23,0.05],[3160,0.26,0.05],[3330,0.27,0.05],[3500,0.29,0.05],[3660,0.33,0.05],[3830,0.36,0.05],[4000,0.39,0.05],[4130,0.42,0.05],[4270,0.43,0.05],[4400,0.44,0.05],[4540,0.45,0.05],[4680,0.47,0.05],[4800,0.48,0.05],[4900,0.49,0.05],[5000,0.51,0.05]];
const mn_ncobras = [[0,0.0],[5000,0.0]];
const mn_maxmin = [[0,0.01,0.003],[500,0.015,0.005],[1000,0.025,0.007],[1500,0.035,0.01],[2000,0.04,0.012],[2500,0.05,0.014],[3000,0.06,0.016],[3500,0.07,0.02],[4000,0.09,0.025],[4300,0.1,0.03],[4600,0.11,0.035],[4800,0.12,0.04],[5000,0.14,0.04]];
const mn_unif = [[0,0.01,0.003],[500,0.015,0.005],[1000,0.025,0.007],[1500,0.035,0.01],[2000,0.04,0.012],[2500,0.05,0.014],[3000,0.06,0.016],[3500,0.07,0.02],[4000,0.08,0.025],[4300,0.1,0.03],[4600,0.11,0.035],[4800,0.12,0.04],[5000,0.15,0.04]];

// panel tables, in seriesNames order: EIG-O, QECC, JEIG, KC-FB, Entropy, COBRAS, Maxexp, nCOBRAS, Maxmin, Uniform
const panelSeries = [
  [syn_eig, syn_qecc, syn_jeig, syn_kcfb, syn_ent, syn_cobras, syn_maxexp, syn_ncobras, syn_maxmin, syn_unif],
  [for_eig, for_qecc, for_jeig, for_kcfb, for_ent, for_cobras, for_maxexp, for_ncobras, for_maxmin, for_unif],
  [eco_eig, eco_qecc, eco_jeig, eco_kcfb, eco_ent, eco_cobras, eco_maxexp, eco_ncobras, eco_maxmin, eco_unif],
  [uk_eig, uk_qecc, uk_jeig, uk_kcfb, uk_ent, uk_cobras, uk_maxexp, uk_ncobras, uk_maxmin, uk_unif],
  [null, ng_qecc, ng_jeig, ng_kcfb, ng_ent, ng_cobras, ng_maxexp, ng_ncobras, ng_maxmin, ng_unif],
  [null, ca_qecc, ca_jeig, ca_kcfb, ca_ent, ca_cobras, ca_maxexp, ca_ncobras, ca_maxmin, ca_unif],
  [null, ci_qecc, ci_jeig, ci_kcfb, ci_ent, ci_cobras, ci_maxexp, ci_ncobras, ci_maxmin, ci_unif],
  [null, mn_qecc, mn_jeig, mn_kcfb, mn_ent, mn_cobras, mn_maxexp, mn_ncobras, mn_maxmin, mn_unif]
];

// ---------- styles / layout ----------
const colorOf = {'EIG-O (ours)':'#1f77b4','JEIG (ours)':'#ff7f0e','Entropy (ours)':'#2ca02c','Maxexp':'#d62728','Maxmin':'#9467bd','QECC':'#8c564b','KC-FB':'#e377c2','COBRAS':'#7f7f7f','nCOBRAS':'#bcbd22','Uniform':'#17becf'};
const FONT = 'DejaVu Sans';
const colLeft = [73, 413, 753, 1093];
const rowTop = [29, 282];
const gridW = 271, rowH = [189, 186];

const grids = [], xAxes = [], yAxes = [], titles = [], series = [];
for (let p = 0; p < 8; p++) {
  const r = Math.floor(p / 4), c = p % 4;
  grids.push({left: colLeft[c], top: rowTop[r], width: gridW, height: rowH[r], show: true, borderColor: '#3c3c3c', borderWidth: 1.2, backgroundColor: 'transparent'});
  xAxes.push({
    type: 'value', gridIndex: p, min: xRanges[p][0], max: xRanges[p][1], position: 'bottom',
    axisLine: {show: false, onZero: false}, splitLine: {show: false},
    axisTick: {show: true, length: 5, lineStyle: {color: '#333', width: 1.2}, customValues: xTicks[p]},
    axisLabel: {customValues: xTicks[p], fontSize: 20, fontFamily: FONT, color: '#000', margin: 8, formatter: v => String(v)},
    name: r === 1 ? 'Number of queries' : '', nameLocation: 'middle', nameGap: 30,
    nameTextStyle: {fontSize: 20, fontFamily: FONT, color: '#000'}
  });
  yAxes.push({
    type: 'value', gridIndex: p, min: yRanges[p][0], max: yRanges[p][1], position: 'left',
    axisLine: {show: false, onZero: false}, splitLine: {show: false},
    axisTick: {show: true, length: 5, lineStyle: {color: '#333', width: 1.2}, customValues: yTicks},
    axisLabel: {customValues: yTicks, fontSize: 20, fontFamily: FONT, color: '#000', margin: 9, formatter: v => v.toFixed(1)},
    name: c === 0 ? 'ARI' : '', nameLocation: 'middle', nameGap: 45, nameRotate: 90,
    nameTextStyle: {fontSize: 20, fontFamily: FONT, color: '#000'}
  });
  titles.push({text: panelTitles[p], left: colLeft[c] + gridW / 2, top: r === 0 ? 8 : 260, textAlign: 'center', padding: 0,
    textStyle: {fontSize: 20, fontWeight: 'normal', fontFamily: FONT, color: '#000'}});
  // shaded bands (polygons through the axis scales)
  panelSeries[p].forEach((pts, k) => {
    if (!pts || pts[0].length < 3) return;
    const nm = seriesNames[k], col = colorOf[nm];
    series.push({
      type: 'custom', name: nm + ' band', xAxisIndex: p, yAxisIndex: p, silent: true, z: 1, clip: true,
      data: [[pts[0][0], pts[0][1]]],
      renderItem: (params, api) => {
        const lo = pts.map(d => api.coord([d[0], d[1] - d[2]]));
        const hi = pts.map(d => api.coord([d[0], d[1] + d[2]])).reverse();
        return {type: 'polygon', shape: {points: lo.concat(hi)}, style: {fill: col, opacity: 0.2}};
      }
    });
  });
  panelSeries[p].forEach((pts, k) => {
    if (!pts) return;
    const nm = seriesNames[k];
    series.push({type: 'line', name: nm, xAxisIndex: p, yAxisIndex: p, data: pts.map(d => [d[0], d[1]]),
      symbol: 'none', lineStyle: {width: 2.8, color: colorOf[nm]}, itemStyle: {color: colorOf[nm]}, z: 2, silent: true});
  });
}

const legendCols = [['EIG-O (ours)','QECC'],['JEIG (ours)','KC-FB'],['Entropy (ours)','COBRAS'],['Maxexp','nCOBRAS'],['Maxmin','Uniform']];
const legendLeft = [196, 398, 582, 804, 977];
const legends = legendCols.map((d, i) => ({
  data: d, orient: 'vertical', left: legendLeft[i], top: 543, padding: 0, itemGap: 10,
  itemWidth: 44, itemHeight: 3.5, icon: 'rect', selectedMode: false,
  textStyle: {fontSize: 20, fontFamily: FONT, color: '#000', padding: [0, 0, 0, 10]}
}));

const chart = echarts.init(document.getElementById('c'), null, {renderer: 'canvas'});
chart.setOption({
  animation: false, backgroundColor: '#fff',
  title: titles, grid: grids, xAxis: xAxes, yAxis: yAxes, legend: legends, series: series
});
</script></body></html>
